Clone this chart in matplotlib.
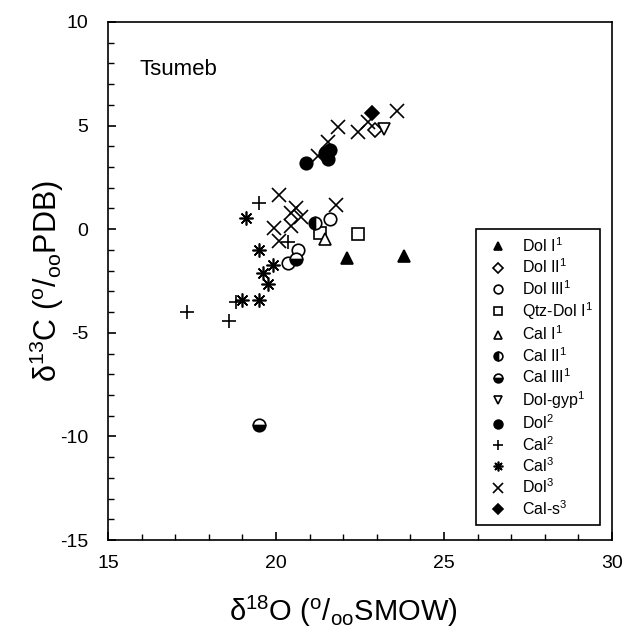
import matplotlib
matplotlib.use("Agg")
import matplotlib.pyplot as plt
from matplotlib.ticker import MultipleLocator

plt.rcParams['font.family'] = ['Liberation Sans', 'DejaVu Sans']
plt.rcParams['mathtext.fontset'] = 'custom'
plt.rcParams['mathtext.rm'] = 'Liberation Sans'
plt.rcParams['mathtext.it'] = 'Liberation Sans'
plt.rcParams['axes.unicode_minus'] = False

# d18O (SMOW) and d13C (PDB) per sample group
dol_i_x = [22.1, 23.8]
dol_i_y = [-1.4, -1.3]
dol_ii_x = [22.95]
dol_ii_y = [4.8]
dol_iii_x = [21.6, 20.65, 20.35]
dol_iii_y = [0.5, -1.0, -1.65]
qtz_dol_x = [21.3, 22.45]
qtz_dol_y = [-0.2, -0.25]
cal_i_x = [21.45]
cal_i_y = [-0.45]
cal_ii_x = [21.15]
cal_ii_y = [0.3]
cal_iii_x = [20.6, 19.5]
cal_iii_y = [-1.45, -9.45]
dol_gyp_x = [23.2]
dol_gyp_y = [4.85]
dol2_x = [20.9, 21.45, 21.55, 21.6]
dol2_y = [3.2, 3.7, 3.4, 3.8]
cal2_x = [19.5, 17.35, 18.6, 18.8, 20.35]
cal2_y = [1.25, -4.0, -4.45, -3.5, -0.6]
cal3_x = [19.1, 19.5, 19.9, 19.6, 19.75, 19.0, 19.5]
cal3_y = [0.55, -1.0, -1.75, -2.1, -2.65, -3.4, -3.4]
dol3_x = [20.1, 20.6, 20.45, 20.75, 21.8, 19.95, 20.45, 20.1,
          21.85, 22.45, 23.6, 22.75, 21.55, 21.25]
dol3_y = [1.65, 1.0, 0.8, 0.6, 1.15, 0.05, 0.15, -0.55,
          4.95, 4.7, 5.7, 5.15, 4.2, 3.55]
cal_s_x = [22.85]
cal_s_y = [5.6]

groups = [
    (dol_i_x, dol_i_y, 'Dol I$^1$', dict(marker='^', mfc='k')),
    (dol_ii_x, dol_ii_y, 'Dol II$^1$', dict(marker='D', mfc='w', ms=7)),
    (dol_iii_x, dol_iii_y, 'Dol III$^1$', dict(marker='o', mfc='w')),
    (qtz_dol_x, qtz_dol_y, 'Qtz-Dol I$^1$', dict(marker='s', mfc='w')),
    (cal_i_x, cal_i_y, 'Cal I$^1$', dict(marker='^', mfc='w')),
    (cal_ii_x, cal_ii_y, 'Cal II$^1$', dict(marker='o', fillstyle='left', mfc='k', mfcalt='w')),
    (cal_iii_x, cal_iii_y, 'Cal III$^1$', dict(marker='o', fillstyle='bottom', mfc='k', mfcalt='w')),
    (dol_gyp_x, dol_gyp_y, 'Dol-gyp$^1$', dict(marker='v', mfc='w')),
    (dol2_x, dol2_y, 'Dol$^2$', dict(marker='o', mfc='k')),
    (cal2_x, cal2_y, 'Cal$^2$', dict(marker='+', ms=10)),
    (cal3_x, cal3_y, 'Cal$^3$', dict(marker=(8, 2, 0), ms=10)),
    (dol3_x, dol3_y, 'Dol$^3$', dict(marker='x', ms=10)),
    (cal_s_x, cal_s_y, 'Cal-s$^3$', dict(marker='D', mfc='k', ms=7)),
]

fig = plt.figure(figsize=(6.36, 6.28), dpi=100)
ax = fig.add_axes([0.1698, 0.1401, 0.7925, 0.8249])

for xs, ys, label, style in groups:
    opts = dict(ms=9, mec='k', color='k', mew=1.2, ls='none')
    opts.update(style)
    ax.plot(xs, ys, label=label, **opts)

ax.set_xlim(15, 30)
ax.set_ylim(-15, 10)
ax.xaxis.set_major_locator(MultipleLocator(5))
ax.xaxis.set_minor_locator(MultipleLocator(1))
ax.yaxis.set_major_locator(MultipleLocator(5))
ax.yaxis.set_minor_locator(MultipleLocator(1))
ax.tick_params(which='both', direction='in', top=False, right=False,
               labelsize=14, color='k')
ax.tick_params(which='major', length=6, width=1.2)
ax.tick_params(which='minor', length=4, width=1)
ax.tick_params(axis='y', pad=14)
ax.tick_params(axis='x', pad=11)
for s in ax.spines.values():
    s.set_linewidth(1.2)

ax.set_xlabel(r'δ$^{18}$O ($^{o}$/$_{oo}$SMOW)', fontsize=21)
ax.set_ylabel(r'δ$^{13}$C ($^{o}$/$_{oo}$PDB)', fontsize=22)
ax.xaxis.set_label_coords(0.466, -0.103)
ax.yaxis.set_label_coords(-0.084, 0.5)
ax.text(15.95, 7.7, 'Tsumeb', fontsize=16, va='center', ha='left')

leg = ax.legend(loc='lower left', bbox_to_anchor=(0.730, 0.029),
                fontsize=11.5, markerscale=0.7, handlelength=1.85,
                handletextpad=0.58, labelspacing=0.17, borderpad=0.45,
                borderaxespad=0, fancybox=False, framealpha=1,
                edgecolor='k', numpoints=1)
leg.get_frame().set_linewidth(1.2)

fig.savefig('out.png', dpi=100)
